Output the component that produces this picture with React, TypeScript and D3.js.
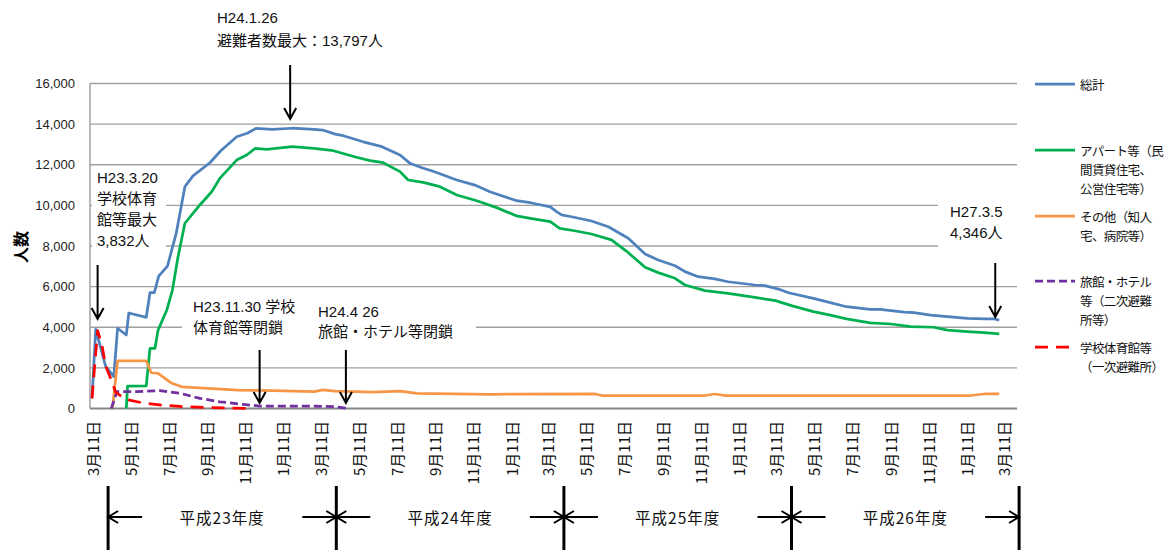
import { useEffect, useRef } from "react"
import * as d3 from "d3"

type Pt = [string, number]

// 総計
const totalSeries: Pt[] = [
  ["2011-03-11", 500], ["2011-03-17", 3900], ["2011-04-02", 2060], ["2011-04-11", 1730],
  ["2011-04-15", 1570], ["2011-04-21", 3950], ["2011-05-05", 3620], ["2011-05-09", 4700],
  ["2011-06-06", 4490], ["2011-06-12", 5700], ["2011-06-19", 5700], ["2011-06-26", 6520],
  ["2011-07-10", 7010], ["2011-07-24", 8620], ["2011-08-07", 10920], ["2011-08-20", 11450],
  ["2011-09-16", 12100], ["2011-10-04", 12700], ["2011-10-29", 13380], ["2011-11-15", 13550],
  ["2011-11-29", 13790], ["2011-12-25", 13740], ["2012-01-26", 13797], ["2012-03-01", 13740],
  ["2012-03-15", 13710], ["2012-04-04", 13510], ["2012-04-17", 13430], ["2012-05-19", 13130],
  ["2012-06-18", 12890], ["2012-07-17", 12480], ["2012-08-02", 12070], ["2012-08-21", 11850],
  ["2012-09-08", 11680], ["2012-10-16", 11250], ["2012-11-14", 11000], ["2012-12-08", 10670],
  ["2013-01-20", 10230], ["2013-02-11", 10130], ["2013-03-15", 9930], ["2013-03-25", 9690],
  ["2013-04-02", 9530], ["2013-04-18", 9440], ["2013-05-20", 9230], ["2013-06-16", 8950],
  ["2013-07-18", 8380], ["2013-08-14", 7610], ["2013-09-04", 7310], ["2013-10-01", 7030],
  ["2013-10-17", 6740], ["2013-11-07", 6490], ["2013-12-04", 6380], ["2013-12-25", 6240],
  ["2014-02-06", 6080], ["2014-02-22", 6050], ["2014-03-16", 5880], ["2014-04-01", 5700],
  ["2014-05-11", 5420], ["2014-06-07", 5210], ["2014-07-03", 5010], ["2014-08-10", 4880],
  ["2014-08-26", 4880], ["2014-10-03", 4740], ["2014-10-19", 4720], ["2014-11-15", 4600],
  ["2014-12-12", 4520], ["2015-01-13", 4440], ["2015-02-09", 4410], ["2015-02-25", 4410],
  ["2015-03-05", 4346],
]

// アパート等
const apartSeries: Pt[] = [
  ["2011-05-05", 0], ["2011-05-07", 1100], ["2011-06-06", 1110], ["2011-06-12", 2960],
  ["2011-06-20", 2960], ["2011-06-25", 3860], ["2011-07-09", 4850], ["2011-07-18", 5830],
  ["2011-07-27", 7470], ["2011-08-07", 9120], ["2011-08-31", 10020], ["2011-09-19", 10670],
  ["2011-10-02", 11330], ["2011-10-29", 12230], ["2011-11-14", 12480], ["2011-11-28", 12810],
  ["2011-12-16", 12760], ["2012-01-26", 12890], ["2012-03-01", 12810], ["2012-04-01", 12690],
  ["2012-05-08", 12370], ["2012-05-30", 12200], ["2012-06-20", 12100], ["2012-07-17", 11660],
  ["2012-07-30", 11250], ["2012-08-23", 11130], ["2012-09-19", 10920], ["2012-10-16", 10510],
  ["2012-11-17", 10230], ["2012-12-19", 9890], ["2013-01-20", 9480], ["2013-02-11", 9360],
  ["2013-03-15", 9200], ["2013-03-30", 8870], ["2013-04-23", 8750], ["2013-05-20", 8590],
  ["2013-06-21", 8300], ["2013-07-15", 7750], ["2013-08-14", 6950], ["2013-09-04", 6690],
  ["2013-10-01", 6410], ["2013-10-17", 6080], ["2013-11-18", 5800], ["2013-12-25", 5670],
  ["2014-02-06", 5470], ["2014-03-11", 5310], ["2014-04-07", 5050], ["2014-05-11", 4770],
  ["2014-06-07", 4600], ["2014-07-03", 4410], ["2014-08-10", 4220], ["2014-09-12", 4160],
  ["2014-10-14", 4030], ["2014-11-20", 4000], ["2014-12-12", 3860], ["2015-01-13", 3780],
  ["2015-02-09", 3730], ["2015-03-05", 3670],
]

// その他（知人宅、病院等）
const otherSeries: Pt[] = [
  ["2011-04-13", 50], ["2011-04-21", 2350], ["2011-06-06", 2350], ["2011-06-14", 1760],
  ["2011-06-25", 1730], ["2011-07-17", 1240], ["2011-08-02", 1070], ["2011-09-13", 990],
  ["2011-10-31", 910], ["2011-12-27", 880], ["2012-03-01", 830], ["2012-03-15", 920],
  ["2012-04-04", 850], ["2012-06-04", 810], ["2012-07-17", 860], ["2012-08-13", 750],
  ["2012-12-08", 700], ["2013-05-26", 714], ["2013-06-06", 640], ["2013-11-18", 640],
  ["2013-12-04", 714], ["2013-12-20", 640], ["2015-01-18", 640], ["2015-02-09", 714],
  ["2015-03-05", 714],
]

// 旅館・ホテル等（二次避難所等）
const hotelSeries: Pt[] = [
  ["2011-04-11", 0], ["2011-04-20", 830], ["2011-05-20", 830], ["2011-06-28", 880],
  ["2011-07-30", 750], ["2011-08-31", 500], ["2011-10-02", 330], ["2011-11-03", 220],
  ["2011-12-05", 120], ["2012-03-01", 120], ["2012-04-01", 90], ["2012-04-26", 0],
]

// 学校体育館等（一次避難所）
const gymSeries: Pt[] = [
  ["2011-03-11", 500], ["2011-03-20", 3832], ["2011-03-27", 3100], ["2011-04-02", 2100],
  ["2011-04-12", 1300], ["2011-04-18", 800], ["2011-05-04", 450], ["2011-06-01", 270],
  ["2011-07-01", 170], ["2011-07-30", 100], ["2011-09-08", 50], ["2011-11-20", 0],
]

const yTicks = [0, 2000, 4000, 6000, 8000, 10000, 12000, 14000, 16000]

const xTickDates = [
  "2011-03-11", "2011-05-11", "2011-07-11", "2011-09-11", "2011-11-11", "2012-01-11",
  "2012-03-11", "2012-05-11", "2012-07-11", "2012-09-11", "2012-11-11", "2013-01-11",
  "2013-03-11", "2013-05-11", "2013-07-11", "2013-09-11", "2013-11-11", "2014-01-11",
  "2014-03-11", "2014-05-11", "2014-07-11", "2014-09-11", "2014-11-11", "2015-01-11",
  "2015-03-11",
]

const fiscalYears = ["平成23年度", "平成24年度", "平成25年度", "平成26年度"]
const fiscalBounds = ["2011-04-01", "2012-04-01", "2013-04-01", "2014-04-01", "2015-04-01"]

const legendLabels = [
  ["総計"],
  ["アパート等（民", "間賃貸住宅、", "公営住宅等）"],
  ["その他（知人", "宅、病院等）"],
  ["旅館・ホテル", "等（二次避難", "所等）"],
  ["学校体育館等", "（一次避難所）"],
]

const FONT = `"Liberation Sans", "Noto Sans CJK JP", sans-serif`
const JP = `"Noto Sans CJK JP", sans-serif`

export default function App() {
  const svgRef = useRef<SVGSVGElement>(null)

  useEffect(() => {
    const svg = d3.select(svgRef.current!)
    svg.selectAll("*").remove()

    const parse = d3.timeParse("%Y-%m-%d")
    const plotLeft = 90
    const plotRight = 1017
    const x = d3
      .scaleTime()
      .domain([parse("2011-03-11")!, parse("2015-03-11")!])
      .range([92, 1003])
    const y = d3.scaleLinear().domain([0, 16000]).range([408.5, 83.5])

    // gridlines
    const grid = svg.append("g")
    yTicks
      .filter((t) => t > 0)
      .forEach((t) => {
        grid
          .append("line")
          .attr("x1", plotLeft)
          .attr("x2", plotRight)
          .attr("y1", y(t))
          .attr("y2", y(t))
          .attr("stroke", "#a0a0a0")
          .attr("stroke-width", 1.3)
      })
    grid
      .append("line")
      .attr("x1", plotLeft)
      .attr("x2", plotLeft)
      .attr("y1", y(16000))
      .attr("y2", y(0))
      .attr("stroke", "#a0a0a0")
      .attr("stroke-width", 1.5)
    grid
      .append("line")
      .attr("x1", plotLeft)
      .attr("x2", plotRight)
      .attr("y1", y(0))
      .attr("y2", y(0))
      .attr("stroke", "#868686")
      .attr("stroke-width", 2)

    // y axis labels
    const yAxis = svg
      .append("g")
      .attr("transform", "translate(75,0)")
      .call(d3.axisLeft(y).tickValues(yTicks).tickFormat(d3.format(",")).tickSize(0).tickPadding(0))
    yAxis.select(".domain").remove()
    yAxis.selectAll("text").attr("font-family", FONT).attr("font-size", 13).attr("fill", "#222")

    svg
      .append("text")
      .attr("transform", `translate(20,${(y(0) + y(16000)) / 2 + 1}) rotate(-90)`)
      .attr("text-anchor", "middle")
      .attr("dominant-baseline", "central")
      .attr("font-family", JP)
      .attr("font-weight", 700)
      .attr("font-size", 16)
      .text("人数")

    // x tick labels
    xTickDates.forEach((ds) => {
      const d = parse(ds)!
      svg
        .append("text")
        .attr("transform", `translate(${x(d)},421) rotate(-90)`)
        .attr("text-anchor", "end")
        .attr("dominant-baseline", "central")
        .attr("font-family", JP)
        .attr("font-size", 15)
        .attr("fill", "#111")
        .text(`${d.getMonth() + 1}月11日`)
    })

    // white boxes behind annotation texts
    const boxes: [number, number, number, number][] = [
      [92, 167, 74, 86],
      [182, 294, 294, 48],
      [938, 193, 80, 62],
    ]
    boxes.forEach(([bx, by, bw, bh]) => {
      svg.append("rect").attr("x", bx).attr("y", by).attr("width", bw).attr("height", bh).attr("fill", "#fff")
    })

    // series
    const line = d3
      .line<Pt>()
      .x((d) => x(parse(d[0])!))
      .y((d) => y(d[1]))
    const series = [
      { data: totalSeries, color: "#4f81bd", dash: null as string | null },
      { data: apartSeries, color: "#00b050", dash: null },
      { data: otherSeries, color: "#f79646", dash: null },
      { data: hotelSeries, color: "#7030a0", dash: "8,4" },
      { data: gymSeries, color: "#ff0000", dash: "13,8" },
    ]
    const linesG = svg.append("g")
    series.forEach((s) => {
      linesG
        .append("path")
        .attr("d", line(s.data))
        .attr("fill", "none")
        .attr("stroke", s.color)
        .attr("stroke-width", 2.75)
        .attr("stroke-linejoin", "round")
        .attr("stroke-dasharray", s.dash)
    })

    // legend
    const legendY = [84, 150, 216, 281, 347]
    const lg = svg.append("g")
    series.forEach((s, i) => {
      lg.append("line")
        .attr("x1", 1035)
        .attr("x2", 1075)
        .attr("y1", legendY[i])
        .attr("y2", legendY[i])
        .attr("stroke", s.color)
        .attr("stroke-width", 2.75)
        .attr("stroke-dasharray", s.dash)
      legendLabels[i].forEach((t, j) => {
        lg.append("text")
          .attr("x", 1080)
          .attr("y", legendY[i] + j * 19.3)
          .attr("dominant-baseline", "central")
          .attr("font-family", JP)
          .attr("font-size", 12.5)
          .attr("letter-spacing", -0.6)
          .attr("fill", "#111")
          .text(t)
      })
    })

    // annotations
    const ann = svg.append("g").attr("font-family", FONT).attr("font-size", 15).attr("fill", "#111")
    const addText = (tx: number, ty: number, lines: string[], step: number) => {
      lines.forEach((t, j) => {
        ann.append("text").attr("x", tx).attr("y", ty + j * step).attr("dominant-baseline", "central").text(t)
      })
    }
    addText(217, 17, ["H24.1.26", "避難者数最大：13,797人"], 23)
    addText(97, 177, ["H23.3.20", "学校体育", "館等最大", "3,832人"], 21)
    addText(193, 306, ["H23.11.30 学校", "体育館等閉鎖"], 21)
    addText(318, 311, ["H24.4 26", "旅館・ホテル等閉鎖"], 20)
    addText(950, 211, ["H27.3.5", "4,346人"], 21)

    const arrow = (ax: number, y1: number, y2: number) => {
      svg
        .append("path")
        .attr("d", `M${ax},${y1}L${ax},${y2}M${ax - 6},${y2 - 11}L${ax},${y2}L${ax + 6},${y2 - 11}`)
        .attr("fill", "none")
        .attr("stroke", "#000")
        .attr("stroke-width", 2)
    }
    arrow(x(parse("2012-01-26")!) - 2, 65, 119)
    arrow(x(parse("2011-03-20")!), 265, 319)
    arrow(x(parse("2011-11-30")!) + 3, 350, 403)
    arrow(x(parse("2012-04-26")!) - 3, 350, 403)
    arrow(x(parse("2015-03-05")!) - 4, 263, 317)

    // fiscal year bar
    const fx = fiscalBounds.map((d) => x(parse(d)!) + 3)
    const fy = 517
    const fg = svg.append("g").attr("stroke", "#000").attr("fill", "none")
    fx.forEach((bx) => {
      fg.append("line").attr("x1", bx).attr("x2", bx).attr("y1", 486).attr("y2", 550).attr("stroke-width", 3)
    })
    fiscalYears.forEach((label, i) => {
      const a = fx[i]
      const b = fx[i + 1]
      fg.append("path")
        .attr("d", `M${a + 34},${fy}L${a},${fy}M${a + 10},${fy - 6}L${a},${fy}L${a + 10},${fy + 6}`)
        .attr("stroke-width", 2)
      fg.append("path")
        .attr("d", `M${b - 34},${fy}L${b},${fy}M${b - 10},${fy - 6}L${b},${fy}L${b - 10},${fy + 6}`)
        .attr("stroke-width", 2)
      svg
        .append("text")
        .attr("x", (a + b) / 2)
        .attr("y", fy)
        .attr("text-anchor", "middle")
        .attr("dominant-baseline", "central")
        .attr("font-family", JP)
        .attr("font-size", 15.5)
        .attr("letter-spacing", 1)
        .attr("fill", "#111")
        .text(label)
    })
  }, [])

  return (
    <svg
      ref={svgRef}
      width={1170}
      height={550}
      style={{ position: "absolute", left: 0, top: 0, background: "#fff" }}
    />
  )
}
